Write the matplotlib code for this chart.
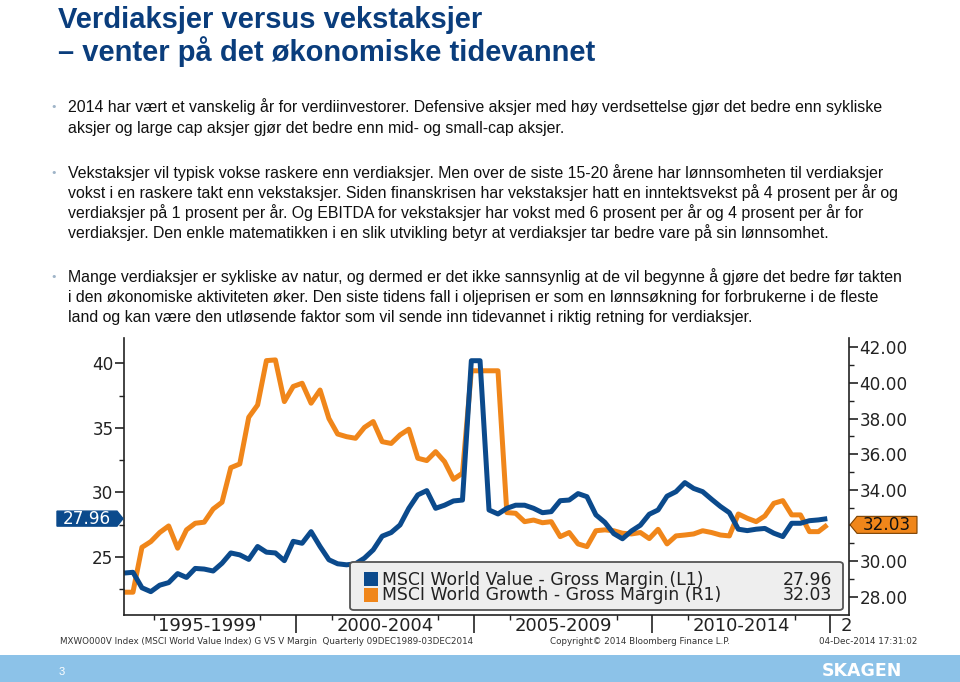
import numpy as np
import pandas as pd
import matplotlib
matplotlib.use("Agg")
import matplotlib.pyplot as plt
from matplotlib import font_manager
from matplotlib.patches import Rectangle, Polygon, FancyBboxPatch
from matplotlib.transforms import blended_transform_factory

W, H = 960, 682
BLUE = "#0b4a8c"
ORANGE = "#f0861a"
TITLE_BLUE = "#0a3d7c"

# quarterly observations, Mar 1995 - Dec 2014
dates = pd.date_range("1995-03-03", "2014-12-03", freq=pd.DateOffset(months=3))
years = np.asarray(dates.year + (dates.dayofyear - 1) / 365.25)

# MSCI World Value - Gross Margin (left axis)
value_margin = [
    23.74, 23.80, 22.60, 22.30, 22.80, 23.00, 23.70, 23.40, 24.10, 24.05,
    23.90, 24.50, 25.30, 25.15, 24.80, 25.80, 25.36, 25.30, 24.70, 26.20,
    26.05, 26.95, 25.80, 24.77, 24.46, 24.38, 24.46, 24.90, 25.54, 26.60,
    26.88, 27.47, 28.76, 29.80, 30.13, 28.76, 29.00, 29.33, 29.40, 40.20,
    40.20, 28.63, 28.32, 28.76, 29.00, 29.00, 28.76, 28.42, 28.50, 29.35,
    29.40, 29.90, 29.66, 28.25, 27.67, 26.80, 26.40, 27.00, 27.45, 28.30,
    28.63, 29.70, 30.05, 30.75, 30.30, 30.05, 29.46, 28.90, 28.42, 27.14,
    27.03, 27.14, 27.20, 26.83, 26.57, 27.60, 27.60, 27.80, 27.86, 27.96,
]
# MSCI World Growth - Gross Margin (right axis)
growth_margin = [
    28.25, 28.25, 30.77, 31.09, 31.60, 31.97, 30.72, 31.75, 32.12, 32.18,
    32.92, 33.30, 35.24, 35.45, 38.07, 38.76, 41.25, 41.29, 38.95, 39.80,
    39.98, 38.86, 39.60, 38.00, 37.13, 36.98, 36.89, 37.50, 37.83, 36.70,
    36.60, 37.08, 37.40, 35.77, 35.64, 36.14, 35.58, 34.59, 34.93, 40.68,
    40.68, 40.68, 40.68, 32.72, 32.68, 32.21, 32.30, 32.15, 32.21, 31.37,
    31.60, 30.96, 30.81, 31.70, 31.75, 31.70, 31.56, 31.52, 31.60, 31.26,
    31.78, 30.96, 31.41, 31.46, 31.52, 31.70, 31.60, 31.46, 31.41, 32.64,
    32.40, 32.21, 32.53, 33.24, 33.39, 32.59, 32.59, 31.65, 31.65, 32.03,
]
series_names = ["MSCI World Value - Gross Margin (L1)", "MSCI World Growth - Gross Margin (R1)"]

left_ticks = [25, 30, 35, 40]
left_minor = [22.5, 27.5, 32.5, 37.5]
right_ticks = [28, 30, 32, 34, 36, 38, 40, 42]
right_minor = [29, 31, 33, 35, 37, 39, 41]
period_labels = ["1995-1999", "2000-2004", "2005-2009", "2010-2014"]
period_mid = [1997.5, 2002.5, 2007.5, 2012.5]
period_edges = [2000, 2005, 2010, 2015]
year_minor = [1996, 1999, 2001, 2004, 2006, 2009, 2011, 2014]

title_lines = ["Verdiaksjer versus vekstaksjer", "\u2013 venter på det økonomiske tidevannet"]
bullets = [
    ["2014 har vært et vanskelig år for verdiinvestorer. Defensive aksjer med høy verdsettelse gjør det bedre enn sykliske",
     "aksjer og large cap aksjer gjør det bedre enn mid- og small-cap aksjer."],
    ["Vekstaksjer vil typisk vokse raskere enn verdiaksjer. Men over de siste 15-20 årene har lønnsomheten til verdiaksjer",
     "vokst i en raskere takt enn vekstaksjer. Siden finanskrisen har vekstaksjer hatt en inntektsvekst på 4 prosent per år og",
     "verdiaksjer på 1 prosent per år. Og EBITDA for vekstaksjer har vokst med 6 prosent per år og 4 prosent per år for",
     "verdiaksjer. Den enkle matematikken i en slik utvikling betyr at verdiaksjer tar bedre vare på sin lønnsomhet."],
    ["Mange verdiaksjer er sykliske av natur, og dermed er det ikke sannsynlig at de vil begynne å gjøre det bedre før takten",
     "i den økonomiske aktiviteten øker. Den siste tidens fall i oljeprisen er som en lønnsøkning for forbrukerne i de fleste",
     "land og kan være den utløsende faktor som vil sende inn tidevannet i riktig retning for verdiaksjer."],
]
bullet_y = [[107, 128], [173, 193, 213, 233], [277, 297, 317]]

names = {f.name for f in font_manager.fontManager.ttflist}
NARROW = "Liberation Sans Narrow" in names
slide_font = ["Liberation Sans Narrow", "DejaVu Sans"] if NARROW else ["Liberation Sans", "DejaVu Sans"]
title_size = 24.5 if NARROW else 21
body_size = 13.6 if NARROW else 11.45
chart_font = ["DejaVu Sans"]


def fx(px):
    return px / W


def fy(py):
    return 1 - py / H


fig = plt.figure(figsize=(W / 100, H / 100), dpi=100)
fig.patch.set_facecolor("white")

# ---- slide text
fig.text(fx(58), fy(28), title_lines[0], color=TITLE_BLUE, fontsize=title_size,
         fontweight="bold", family=slide_font, va="baseline")
fig.text(fx(58), fy(61), title_lines[1], color=TITLE_BLUE, fontsize=title_size,
         fontweight="bold", family=slide_font, va="baseline")
for lines, ys in zip(bullets, bullet_y):
    fig.text(fx(50), fy(ys[0]), "\u2022", color="#9fb4c8", fontsize=8, va="center",
             family=["DejaVu Sans"])
    for line, y in zip(lines, ys):
        fig.text(fx(68), fy(y + 5), line, color="#111111", fontsize=body_size,
                 family=slide_font, va="baseline")

# ---- chart
ax = fig.add_axes([fx(124), fy(615), fx(849) - fx(124), fy(338) - fy(615)])
ax2 = ax.twinx()
ax2.plot(years, growth_margin, color=ORANGE, lw=3.6, solid_capstyle="butt")
ax.plot(years, value_margin, color=BLUE, lw=3.6, solid_capstyle="butt")
ax.set_zorder(ax2.get_zorder() + 1)
ax.patch.set_visible(False)

ax.set_xlim(years[0], 2015.53)
ax.set_ylim(20.49, 41.96)
ax2.set_ylim(26.97, 42.52)

for s in ["top", "right"]:
    ax.spines[s].set_visible(False)
for s in ["top", "left", "bottom"]:
    ax2.spines[s].set_visible(False)
for a in (ax, ax2):
    for s in a.spines.values():
        s.set_color("#222222")
        s.set_linewidth(1.2)

ax.set_yticks(left_ticks)
ax.set_yticks(left_minor, minor=True)
ax.tick_params(axis="y", which="major", length=6.5, width=1.2, pad=1, labelsize=12.2,
               colors="#222222")
ax.tick_params(axis="y", which="minor", length=3.6, width=1.0, colors="#222222")
ax2.set_yticks(right_ticks)
ax2.set_yticks(right_minor, minor=True)
# the 32.00 label sits under the last-value tag
ax2.set_yticklabels(["" if v == 32 else f"{v:.2f}" for v in right_ticks])
ax2.tick_params(axis="y", which="major", length=6.5, width=1.2, pad=1, labelsize=12.2,
                colors="#222222")
ax2.tick_params(axis="y", which="minor", length=3.6, width=1.0, colors="#222222")

ax.set_xticks(period_edges)
ax.set_xticklabels([""] * len(period_edges))
ax.set_xticks(year_minor, minor=True)
ax.tick_params(axis="x", which="major", length=13, width=1.2, colors="#222222")
ax.tick_params(axis="x", which="minor", length=3.6, width=1.0, colors="#222222")

bt = blended_transform_factory(ax.transData, ax.transAxes)
for lab, xm in zip(period_labels, period_mid):
    ax.text(xm, -0.04, lab, transform=bt, ha="center", va="center", fontsize=13,
            color="#222222", family=chart_font)
ax.text(2015.3, -0.04, "2", transform=bt, ha="left", va="center", fontsize=13,
        color="#222222", family=chart_font)

# footer of the Bloomberg chart
fig.text(fx(60), fy(642), "MXWO000V Index (MSCI World Value Index) G VS V Margin  Quarterly 09DEC1989-03DEC2014",
         fontsize=6.3, color="#333333", va="center", family=chart_font)
fig.text(fx(550), fy(642), "Copyright\u00a9 2014 Bloomberg Finance L.P.", fontsize=6.3,
         color="#333333", va="center", family=chart_font)
fig.text(fx(917), fy(642), "04-Dec-2014 17:31:02", fontsize=6.3, color="#333333",
         va="center", ha="right", family=chart_font)

# legend box
leg = FancyBboxPatch((fx(350), fy(610)), fx(843) - fx(350), (610 - 562) / H,
                     boxstyle="round,pad=0,rounding_size=0.004", transform=fig.transFigure,
                     fc="#eeeeee", ec="#555555", lw=1.3, zorder=10)
fig.add_artist(leg)
for col, y in zip([BLUE, ORANGE], [579, 595]):
    fig.add_artist(Rectangle((fx(364), fy(y + 7)), 14 / W, 14 / H, transform=fig.transFigure,
                             fc=col, ec="none", zorder=11))
fig.text(fx(382), fy(587.5), "\n".join(series_names), fontsize=12.4, color="#222222",
         va="center", linespacing=0.84, family=chart_font, zorder=12)
fig.text(fx(832), fy(587.5), f"{value_margin[-1]:.2f}\n{growth_margin[-1]:.2f}",
         fontsize=12.4, color="#222222", va="center", ha="right", multialignment="right",
         linespacing=0.84, family=chart_font, zorder=12)


# last value tags on both axes
def tag_y(axis, val):
    return axis.transData.transform((years[0], val))[1]


yl = tag_y(ax, value_margin[-1])
pts = [(57, yl - 7.5), (117, yl - 7.5), (123, yl), (117, yl + 7.5), (57, yl + 7.5)]
fig.add_artist(Polygon([(x / W, y / H) for x, y in pts], closed=True, transform=fig.transFigure,
                       fc=BLUE, ec=BLUE, zorder=10))
fig.text(fx(87), yl / H, f"{value_margin[-1]:.2f}", color="white", fontsize=12.2,
         ha="center", va="center", family=chart_font, zorder=11)

yr = tag_y(ax2, growth_margin[-1])
pts = [(850, yr), (857, yr - 8.5), (917, yr - 8.5), (917, yr + 8.5), (857, yr + 8.5)]
fig.add_artist(Polygon([(x / W, y / H) for x, y in pts], closed=True, transform=fig.transFigure,
                       fc=ORANGE, ec="#7a4000", lw=0.8, zorder=10))
fig.text(fx(887), yr / H, f"{growth_margin[-1]:.2f}", color="#111111", fontsize=12.2,
         ha="center", va="center", family=chart_font, zorder=11)

# ---- footer band
fig.add_artist(Rectangle((0, 0), 1, 27 / H, transform=fig.transFigure, fc="#8cc2e8",
                         ec="none", zorder=0))
fig.text(fx(59), fy(672), "3", color="white", fontsize=8, va="center", family=slide_font)
fig.text(fx(862), fy(671), "SKAGEN", color="white", fontsize=12.5, fontweight="bold",
         ha="center", va="center", family=["DejaVu Sans"])

fig.savefig("out.png", dpi=100)
